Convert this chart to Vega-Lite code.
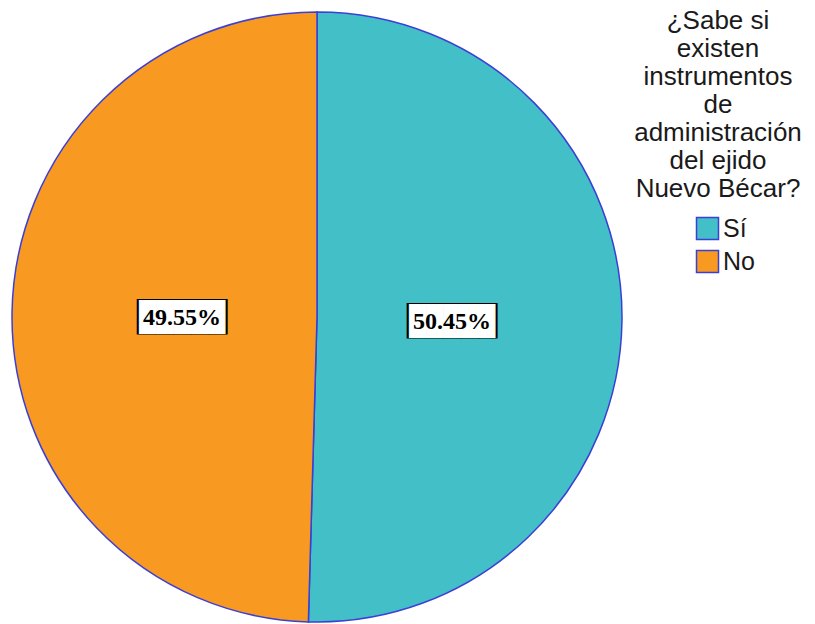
{
  "$schema": "https://vega.github.io/schema/vega-lite/v6.json",
  "width": 634,
  "height": 614,
  "padding": {"left": 0, "top": 8, "right": 0, "bottom": 0},
  "autosize": {"type": "pad"},
  "background": "white",
  "data": {"values": [
    {"respuesta": "Sí", "porcentaje": 50.45, "etiqueta": "50.45%"},
    {"respuesta": "No", "porcentaje": 49.55, "etiqueta": "49.55%"}
  ]},
  "encoding": {
    "theta": {"field": "porcentaje", "type": "quantitative", "stack": true},
    "order": {"field": "porcentaje", "type": "quantitative", "sort": "descending"}
  },
  "layer": [
    {
      "mark": {"type": "arc", "outerRadius": 305, "stroke": "#3b3fd6", "strokeWidth": 1.5},
      "encoding": {
        "color": {
          "field": "respuesta", "type": "nominal",
          "scale": {"domain": ["Sí", "No"], "range": ["#42bfc7", "#f89a22"]},
          "legend": {
            "orient": "none",
            "legendX": 634,
            "legendY": -2,
            "padding": 0,
            "title": ["¿Sabe si", "existen", "instrumentos", "de", "administración", "del ejido", "Nuevo Bécar?"],
            "titleFont": "Liberation Sans",
            "titleFontSize": 26,
            "titleFontWeight": "normal",
            "titleColor": "#1a1a1a",
            "titleLineHeight": 28,
            "titleAlign": "center",
            "titleAnchor": "middle",
            "titlePadding": 14,
            "titleLimit": 300,
            "symbolType": "square",
            "symbolSize": 484,
            "symbolStrokeColor": "#3b3fd6",
            "symbolStrokeWidth": 1.5,
            "symbolOffset": 14,
            "labelFont": "Liberation Sans",
            "labelFontSize": 25,
            "labelColor": "#1a1a1a",
            "labelOffset": 3,
            "rowPadding": 4
          }
        }
      }
    },
    {
      "mark": {"type": "text", "radius": 135, "text": "█████", "font": "DejaVu Sans Mono", "fontSize": 30, "color": "black", "baseline": "middle", "align": "center", "dy": 3}
    },
    {
      "mark": {"type": "text", "radius": 135, "text": "█████", "font": "DejaVu Sans Mono", "fontSize": 28.6, "color": "white", "baseline": "middle", "align": "center", "dy": 3}
    },
    {
      "mark": {"type": "text", "radius": 135, "font": "Liberation Serif", "fontWeight": "bold", "fontSize": 24, "color": "black", "baseline": "middle", "align": "center", "dy": 3},
      "encoding": {"text": {"field": "etiqueta", "type": "nominal"}}
    }
  ]
}
